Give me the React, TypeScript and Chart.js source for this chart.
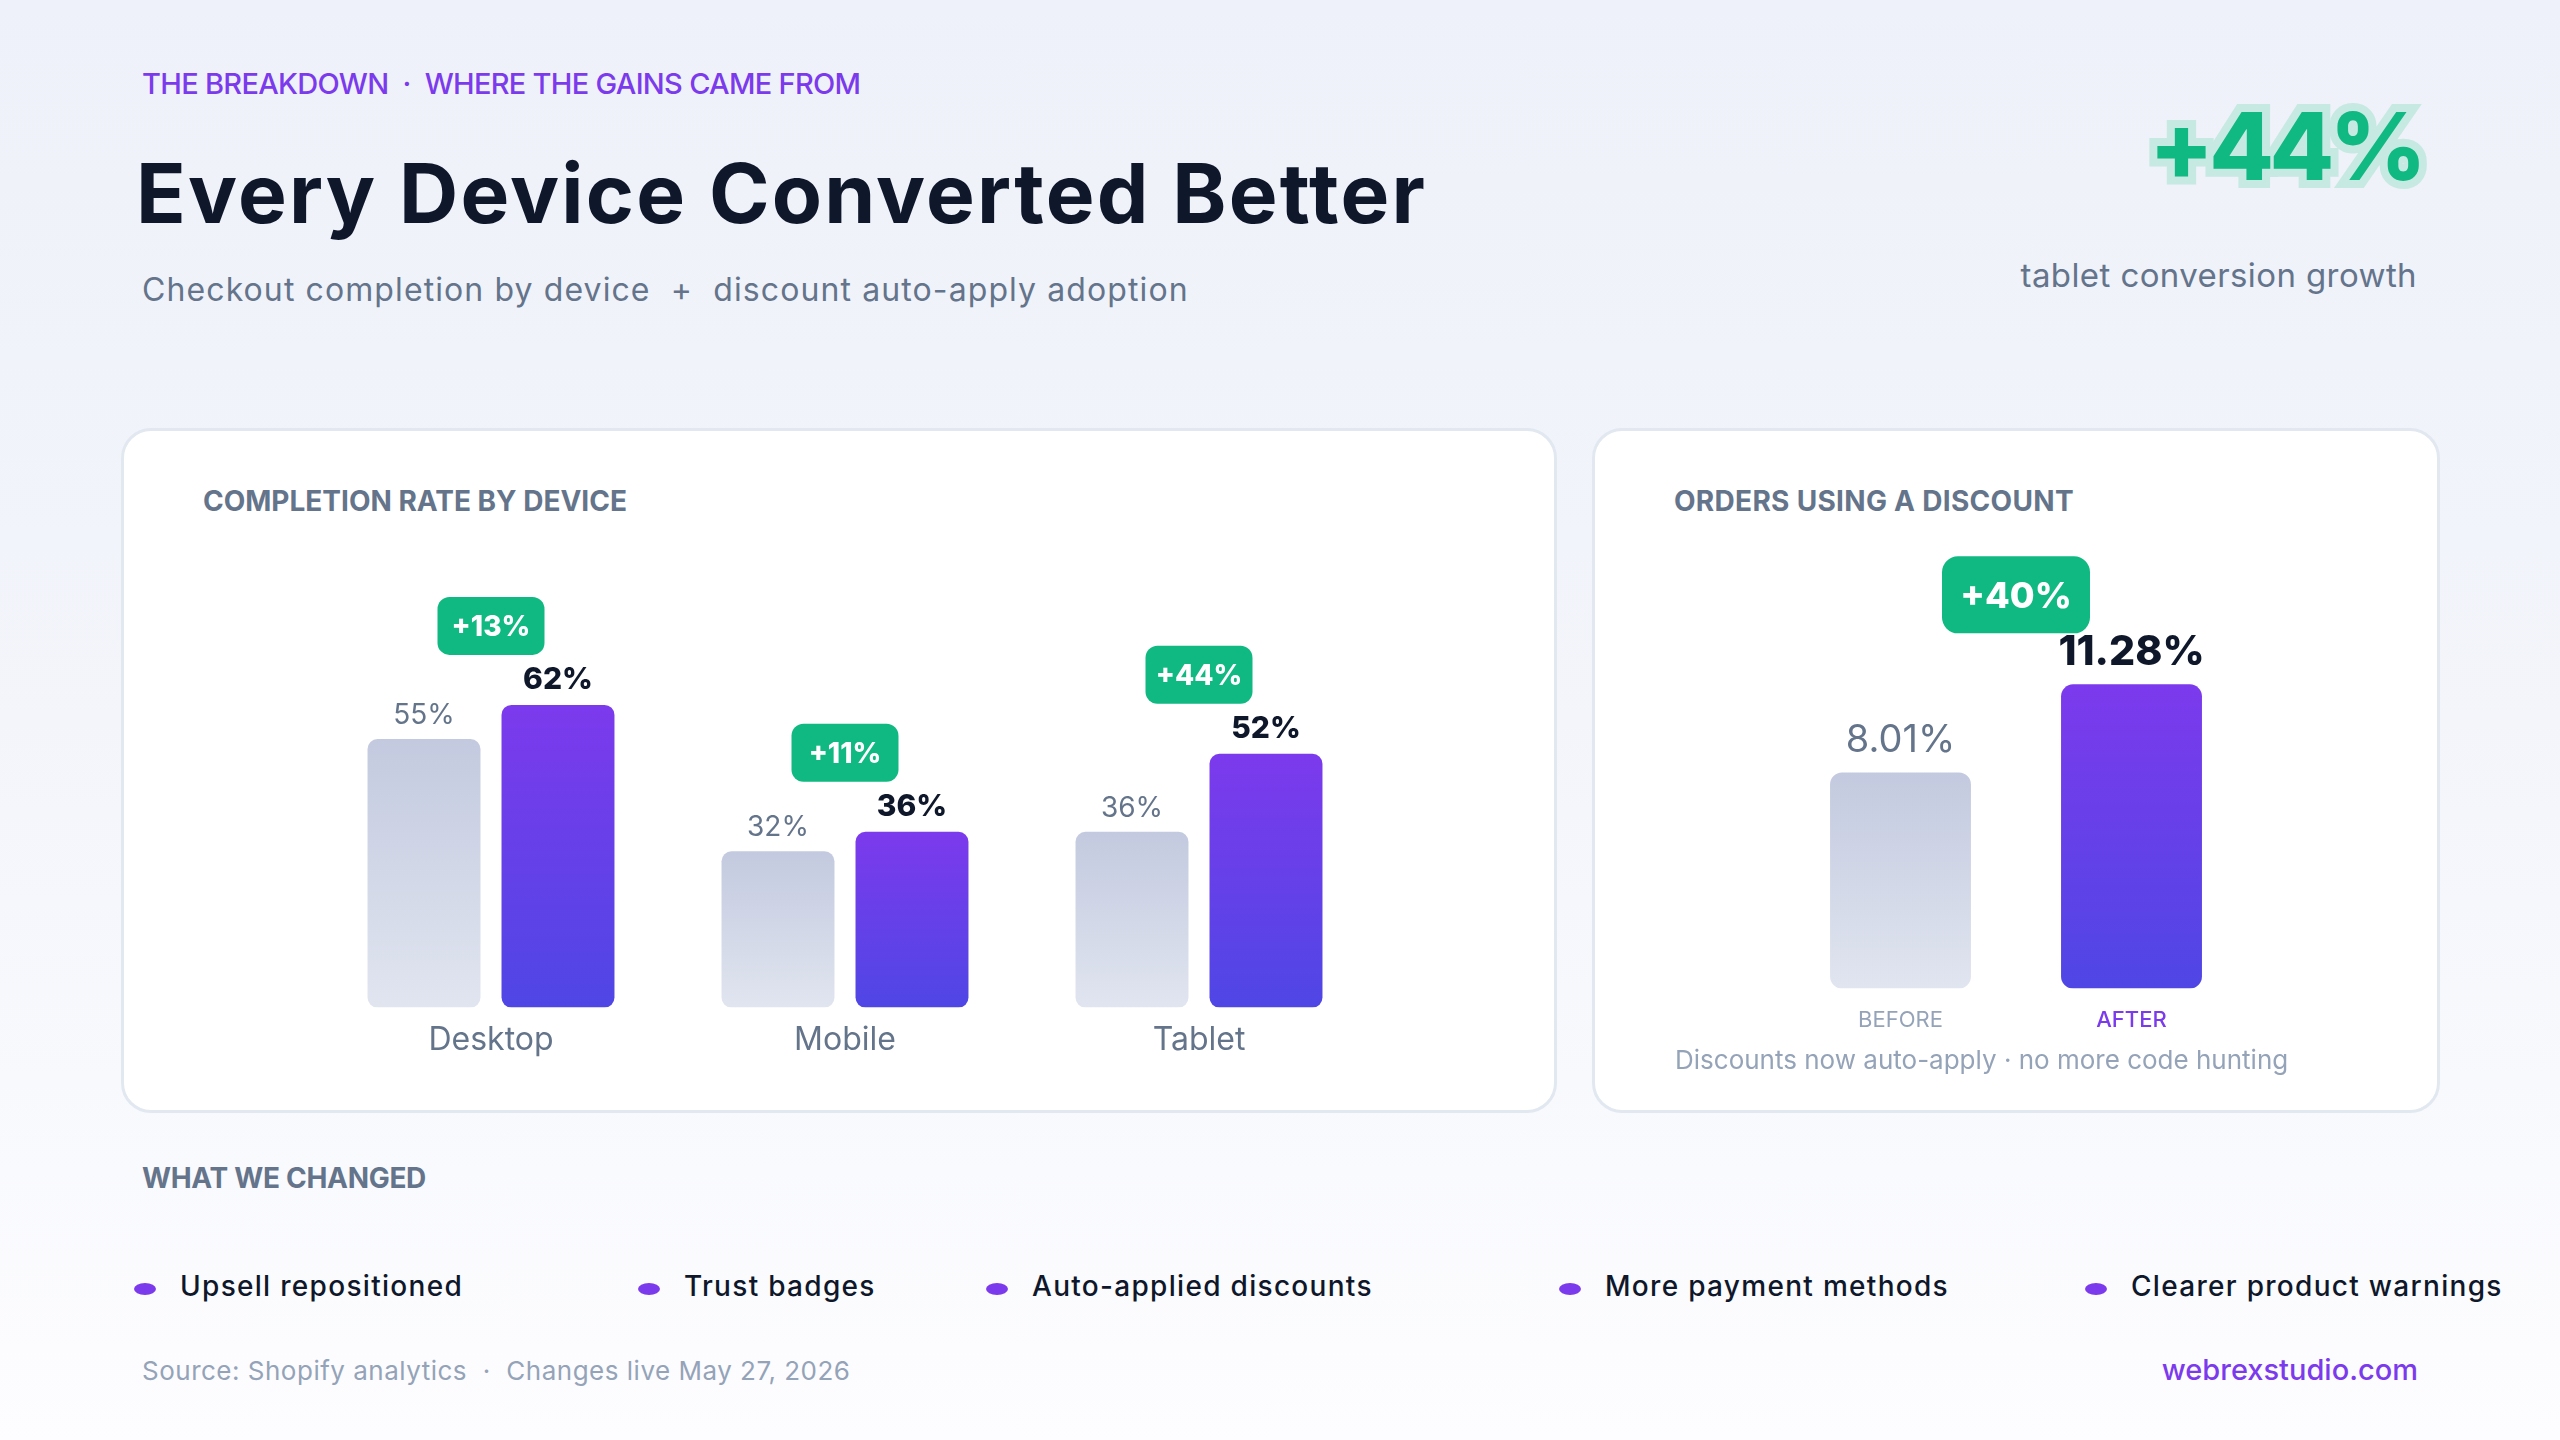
import React, { useEffect, useRef } from "react";
import { Chart, registerables } from "chart.js";

Chart.register(...registerables);

const FONT = "Inter, 'Noto Sans', sans-serif";

// ---- data ----
const devices = ["Desktop", "Mobile", "Tablet"];
const beforeRates = [55, 32, 36];
const afterRates = [62, 36, 52];
const deviceGains = ["+13%", "+11%", "+44%"];

const discountLabels = ["BEFORE", "AFTER"];
const discountValues = [8.01, 11.28];
const discountValueText = ["8.01%", "11.28%"];
const discountGain = "+40%";

const changes = [
  "Upsell repositioned",
  "Trust badges",
  "Auto-applied discounts",
  "More payment methods",
  "Clearer product warnings",
];
const changeX = [180, 684, 1032, 1605, 2131];

function barGradient(top: string, bottom: string) {
  return (ctx: any) => {
    const chart = ctx.chart;
    if (!chart.chartArea || ctx.type !== "data") return top;
    const y = chart.scales.y;
    const v = ctx.raw as number;
    const y0 = y.getPixelForValue(v);
    const y1 = y.getPixelForValue(0);
    const g = chart.ctx.createLinearGradient(0, y0, 0, y1);
    g.addColorStop(0, top);
    g.addColorStop(1, bottom);
    return g;
  };
}

function drawBadge(c: CanvasRenderingContext2D, cx: number, bottom: number, w: number, h: number, r: number, text: string, fs: number) {
  c.fillStyle = "#10b981";
  c.beginPath();
  (c as any).roundRect(cx - w / 2, bottom - h, w, h, r);
  c.fill();
  c.fillStyle = "#ffffff";
  c.font = `800 ${fs}px ${FONT}`;
  c.textAlign = "center";
  c.textBaseline = "alphabetic";
  c.fillText(text, cx, bottom - h / 2 + fs * 0.727 / 2);
}

const deviceLabelsPlugin = {
  id: "deviceLabels",
  afterDatasetsDraw(chart: any) {
    const c = chart.ctx as CanvasRenderingContext2D;
    const m0 = chart.getDatasetMeta(0);
    const m1 = chart.getDatasetMeta(1);
    m0.data.forEach((b0: any, i: number) => {
      const b1 = m1.data[i];
      c.save();
      c.textAlign = "center";
      c.textBaseline = "alphabetic";
      c.font = `400 28px ${FONT}`;
      c.fillStyle = "#64748b";
      c.fillText(`${beforeRates[i]}%`, b0.x, b0.y - 15);
      c.font = `800 30px ${FONT}`;
      c.fillStyle = "#0f172a";
      c.fillText(`${afterRates[i]}%`, b1.x, b1.y - 16);
      drawBadge(c, (b0.x + b1.x) / 2, b1.y - 50, 107, 58, 12, deviceGains[i], 28);
      c.restore();
    });
  },
};

const discountLabelsPlugin = {
  id: "discountLabels",
  afterDatasetsDraw(chart: any) {
    const c = chart.ctx as CanvasRenderingContext2D;
    const m = chart.getDatasetMeta(0);
    const b0 = m.data[0];
    const b1 = m.data[1];
    c.save();
    c.textAlign = "center";
    c.textBaseline = "alphabetic";
    c.font = `400 38px ${FONT}`;
    c.fillStyle = "#64748b";
    c.fillText(discountValueText[0], b0.x, b0.y - 21);
    c.font = `800 41px ${FONT}`;
    c.fillStyle = "#0f172a";
    c.fillText(discountValueText[1], b1.x, b1.y - 19);
    drawBadge(c, (b0.x + b1.x) / 2, b1.y - 51, 148, 77, 16, discountGain, 36);
    c.restore();
  },
};

function DeviceChart() {
  const ref = useRef<HTMLCanvasElement | null>(null);
  useEffect(() => {
    if (!ref.current) return;
    const chart = new Chart(ref.current, {
      type: "bar",
      data: {
        labels: devices,
        datasets: [
          {
            label: "Before",
            data: beforeRates,
            backgroundColor: barGradient("#c3cadf", "#e1e5f0") as any,
            borderRadius: 10,
            borderSkipped: false,
            barPercentage: 0.843,
            categoryPercentage: 0.757,
          },
          {
            label: "After",
            data: afterRates,
            backgroundColor: barGradient("#7c3aed", "#4f46e5") as any,
            borderRadius: 10,
            borderSkipped: false,
            barPercentage: 0.843,
            categoryPercentage: 0.757,
          },
        ],
      },
      options: {
        animation: false,
        responsive: false,
        layout: { padding: { top: 77, left: 193, right: 181, bottom: 36 } },
        plugins: { legend: { display: false }, tooltip: { enabled: false } },
        scales: {
          x: {
            grid: { display: false, drawTicks: false },
            border: { display: false },
            ticks: { color: "#64748b", font: { family: FONT, size: 32, weight: "400" }, padding: 14 },
          },
          y: { display: false, min: 0, max: 80 },
        },
      },
      plugins: [deviceLabelsPlugin],
    });
    return () => chart.destroy();
  }, []);
  return <canvas ref={ref} width={1436} height={570} style={{ position: "absolute", left: 121, top: 540, width: 1436, height: 570 }} />;
}

function DiscountChart() {
  const ref = useRef<HTMLCanvasElement | null>(null);
  useEffect(() => {
    if (!ref.current) return;
    const chart = new Chart(ref.current, {
      type: "bar",
      data: {
        labels: discountLabels,
        datasets: [
          {
            label: "Orders using a discount",
            data: discountValues,
            backgroundColor: ((ctx: any) =>
              ctx.dataIndex === 1
                ? barGradient("#7c3aed", "#4f46e5")(ctx)
                : barGradient("#c3cadf", "#e1e5f0")(ctx)) as any,
            borderRadius: 12,
            borderSkipped: false,
            barPercentage: 0.61,
            categoryPercentage: 1,
          },
        ],
      },
      options: {
        animation: false,
        responsive: false,
        layout: { padding: { top: 71, left: 193, right: 193, bottom: 57 } },
        plugins: { legend: { display: false }, tooltip: { enabled: false } },
        scales: {
          x: {
            grid: { display: false, drawTicks: false },
            border: { display: false },
            ticks: {
              color: (ctx: any) => (ctx.index === 1 ? "#7c3aed" : "#94a3b8"),
              font: (ctx: any) => ({ family: FONT, size: 22, weight: ctx.index === 1 ? "500" : "400" }),
              padding: 19,
            },
          },
          y: { display: false, min: 0, max: 14 },
        },
      },
      plugins: [discountLabelsPlugin],
    });
    return () => chart.destroy();
  }, []);
  return <canvas ref={ref} width={848} height={570} style={{ position: "absolute", left: 1592, top: 540, width: 848, height: 570 }} />;
}

type TProps = {
  x: number;
  base: number;
  fs: number;
  weight?: number;
  color: string;
  right?: boolean;
  children: React.ReactNode;
  style?: React.CSSProperties;
};

function T({ x, base, fs, weight = 400, color, right, children, style }: TProps) {
  const pos: React.CSSProperties = right ? { right: 2560 - x } : { left: x };
  return (
    <div
      style={{
        position: "absolute",
        top: base - 0.864 * fs,
        ...pos,
        fontSize: fs,
        lineHeight: `${fs}px`,
        fontWeight: weight,
        color,
        whiteSpace: "nowrap",
        fontFamily: FONT,
        ...style,
      }}
    >
      {children}
    </div>
  );
}

const card: React.CSSProperties = {
  position: "absolute",
  top: 428,
  height: 685,
  boxSizing: "border-box",
  background: "#ffffff",
  border: "3px solid #e2e8f0",
  borderRadius: 30,
};

export default function App() {
  return (
    <div
      style={{
        position: "absolute",
        left: 0,
        top: 0,
        width: 2560,
        height: 1440,
        overflow: "hidden",
        fontFamily: FONT,
        background: "linear-gradient(180deg, #eef1f9 0%, #f3f5fb 50%, #fdfdff 100%)",
      }}
    >
      <T x={142} base={94} fs={29} weight={500} color="#7c3aed" style={{ letterSpacing: -0.7 }}>
        THE BREAKDOWN&nbsp;&nbsp;·&nbsp;&nbsp;WHERE THE GAINS CAME FROM
      </T>
      <T x={136} base={224} fs={82} weight={700} color="#0f172a" style={{ letterSpacing: 2.2 }}>
        Every Device Converted Better
      </T>
      <T x={142} base={302} fs={32} weight={400} color="#64748b" style={{ letterSpacing: 1.1 }}>
        Checkout completion by device&nbsp;&nbsp;+&nbsp;&nbsp;discount auto-apply adoption
      </T>

      <T x={2422} base={180} fs={94} weight={800} color="#c6e9e2" right style={{ WebkitTextStroke: "16px #c6e9e2", letterSpacing: -4.5 } as any}>
        +44%
      </T>
      <T x={2422} base={180} fs={94} weight={800} color="#10b981" right style={{ letterSpacing: -4.5 }}>
        +44%
      </T>
      <T x={2417} base={288} fs={33} weight={400} color="#64748b" right style={{ letterSpacing: 0.4 }}>
        tablet conversion growth
      </T>

      <div style={{ ...card, left: 121, width: 1436 }} />
      <div style={{ ...card, left: 1592, width: 848 }} />

      <T x={203} base={511} fs={28} weight={700} color="#64748b">
        COMPLETION RATE BY DEVICE
      </T>
      <T x={1674} base={511} fs={28} weight={700} color="#64748b" style={{ letterSpacing: 0.3 }}>
        ORDERS USING A DISCOUNT
      </T>

      <DeviceChart />
      <DiscountChart />

      <T x={1675} base={1069} fs={26} weight={400} color="#94a3b8">
        Discounts now auto-apply · no more code hunting
      </T>

      <T x={142} base={1188} fs={28} weight={700} color="#64748b" style={{ letterSpacing: -0.3 }}>
        WHAT WE CHANGED
      </T>

      {changes.map((c, i) => (
        <React.Fragment key={c}>
          <div
            style={{
              position: "absolute",
              left: changeX[i] - 46,
              top: 1283,
              width: 22,
              height: 12,
              borderRadius: "50%",
              background: "#7c3aed",
            }}
          />
          <T x={changeX[i]} base={1296} fs={28} weight={500} color="#0f172a" style={{ letterSpacing: 1.3 }}>
            {c}
          </T>
        </React.Fragment>
      ))}

      <T x={142} base={1380} fs={26} weight={400} color="#94a3b8" style={{ letterSpacing: 0.5 }}>
        Source: Shopify analytics&nbsp;&nbsp;·&nbsp;&nbsp;Changes live May 27, 2026
      </T>
      <T x={2418} base={1380} fs={29} weight={500} color="#7c3aed" right>
        webrexstudio.com
      </T>
    </div>
  );
}
